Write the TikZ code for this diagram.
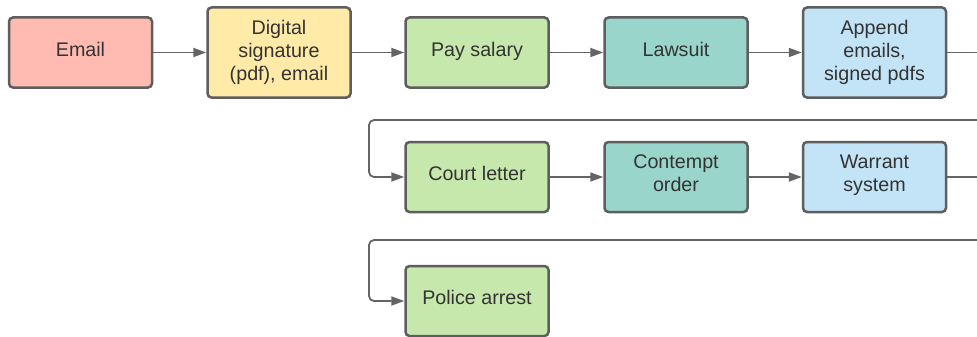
\documentclass[tikz,border=0pt]{standalone}
\usepackage{fontspec}
\setmainfont{Liberation Sans}
\usetikzlibrary{arrows.meta}
\definecolor{cborder}{HTML}{5E5E5E}
\definecolor{cline}{HTML}{646464}
\definecolor{ctext}{HTML}{333333}
\definecolor{cpink}{HTML}{FFBBB1}
\definecolor{cyellow}{HTML}{FFEAA7}
\definecolor{cgreen}{HTML}{C7E8AC}
\definecolor{cteal}{HTML}{99D5CA}
\definecolor{cblue}{HTML}{C2E4F6}
\tikzset{
  box/.style={draw=cborder, line width=2.5pt, rounded corners=4pt, minimum width=143pt,
    align=center, text=ctext, font=\fontsize{19.7}{23.2}\selectfont, inner sep=0pt},
  short/.style={box, minimum height=70pt, text height=14pt, text depth=6.6pt},
  shorttwo/.style={box, minimum height=70pt, text height=37.2pt, text depth=8pt},
  tall/.style={box, minimum height=90pt, text height=60.4pt, text depth=4.2pt},
  conn/.style={draw=cline, line width=1.8pt, -{Triangle[length=13pt,width=9pt]}},
  wire/.style={draw=cline, line width=1.8pt, rounded corners=5pt},
}
\begin{document}
\begin{tikzpicture}[x=1pt,y=-1pt]
\useasboundingbox[fill=white] (0,0) rectangle (977,337);
\node[short, fill=cpink] (email) at (80.5,52.5) {Email};
\node[tall, fill=cyellow] (dig) at (279,52.5) {Digital\\signature\\(pdf), email};
\node[short, fill=cgreen] (pay) at (477,52.5) {Pay salary};
\node[short, fill=cteal] (law) at (676,52.5) {Lawsuit};
\node[tall, fill=cblue] (app) at (874.5,52.5) {Append\\emails,\\signed pdfs};
\node[short, fill=cgreen] (court) at (477,177) {Court letter};
\node[shorttwo, fill=cteal] (cont) at (676,177) {Contempt\\order};
\node[shorttwo, fill=cblue] (warr) at (874.5,177) {Warrant\\system};
\node[short, fill=cgreen] (pol) at (477,301) {Police arrest};
\coordinate (e1) at (977,52.5);
\coordinate (e2) at (977,120);
\coordinate (e3) at (977,177);
\coordinate (e4) at (977,240);
\draw[conn] (email) -- (dig);
\draw[conn] (dig) -- (pay);
\draw[conn] (pay) -- (law);
\draw[conn] (law) -- (app);
\draw[wire] (app.east) -- (e1);
\draw[conn, rounded corners=5pt] (e2) -- (369,120) |- (court.west);
\draw[conn] (court) -- (cont);
\draw[conn] (cont) -- (warr);
\draw[wire] (warr.east) -- (e3);
\draw[conn, rounded corners=5pt] (e4) -- (369,240) |- (pol.west);
\end{tikzpicture}
\end{document}
